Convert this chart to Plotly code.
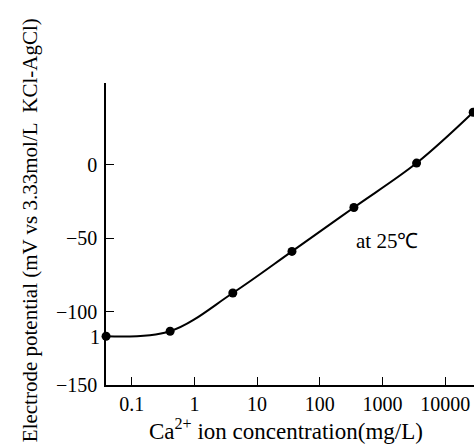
import plotly.graph_objects as go

conc = [0.039, 0.41, 4.1, 36, 350, 3500, 28000]
potential = [-116.8, -113.4, -87.4, -59.1, -29.2, 1.0, 35.6]
x_ticks = [0.1, 1, 10, 100, 1000, 10000]
x_tick_labels = ["0.1", "1", "10", "100", "1000", "10000"]
y_ticks = [0, -50, -100, -150]

font = "Liberation Serif, Times New Roman, serif"

fig = go.Figure()
fig.add_trace(go.Scatter(
    x=conc, y=potential, mode="lines+markers",
    line=dict(color="black", width=2, shape="spline", smoothing=1.0),
    marker=dict(color="black", size=9),
    cliponaxis=False,
    showlegend=False,
))

fig.update_layout(
    width=474, height=445,
    margin=dict(l=106, r=0, t=83, b=60, autoexpand=False),
    paper_bgcolor="white", plot_bgcolor="white",
    font=dict(family=font, size=20, color="black"),
    xaxis=dict(
        type="log", range=[-1.41, 4.46],
        tickvals=x_ticks, ticktext=x_tick_labels,
        ticks="inside", ticklen=8, tickcolor="black", tickwidth=1,
        showline=True, linecolor="black", linewidth=1.5,
        showgrid=False, zeroline=False, automargin=False,
        tickfont=dict(size=20),
    ),
    yaxis=dict(
        range=[-150, 55.5],
        tickvals=y_ticks,
        ticks="inside", ticklen=8, tickcolor="black", tickwidth=1,
        showline=True, linecolor="black", linewidth=1.5,
        showgrid=False, zeroline=False, automargin=False,
        tickfont=dict(size=20), ticklabelstandoff=3,
    ),
    annotations=[
        dict(x=3.07, y=-52, xref="x", yref="y", text="at 25℃", showarrow=False,
             font=dict(size=21)),
        dict(x=-0.012, y=-117, xref="paper", yref="y", text="1", showarrow=False,
             font=dict(size=20), xanchor="right", yanchor="middle"),
        dict(x=-0.206, y=0.5, xref="paper", yref="paper", yanchor="middle",
             xanchor="center", textangle=-90,
             text="Electrode potential (mV vs 3.33mol/L  KCl-AgCl)",
             showarrow=False, font=dict(size=21), yshift=4),
        dict(x=0.49, y=0, xref="paper", yref="paper", yanchor="top",
             xanchor="center", yshift=-28,
             text="Ca<sup>2+</sup> ion concentration(mg/L)",
             showarrow=False, font=dict(size=23)),
    ],
)

fig.write_html("out.html", config={"displayModeBar": False},
               post_script="document.body.style.margin='0';window.dispatchEvent(new Event('resize'));")
